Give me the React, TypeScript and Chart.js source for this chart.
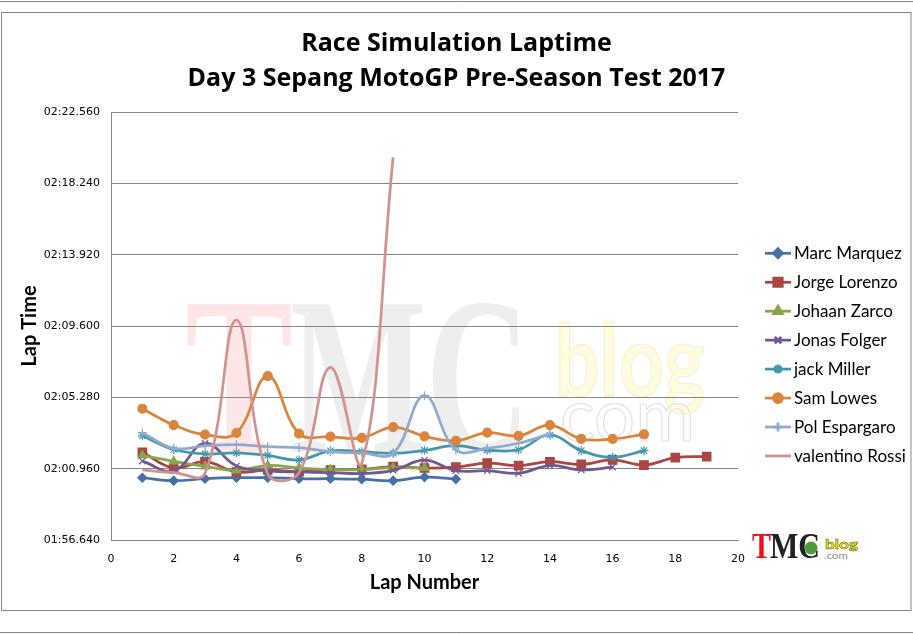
import { useEffect, useRef } from "react";
import { Chart, registerables } from "chart.js";
import { drawPoint } from "chart.js/helpers";

Chart.register(...registerables);

// lap numbers (x values)
const laps = [1, 2, 3, 4, 5, 6, 7, 8, 9, 10, 11, 12, 13, 14, 15, 16, 17, 18, 19];

// lap times in seconds
const marcMarquez = [120.41, 120.23, 120.35, 120.41, 120.41, 120.35, 120.35, 120.32, 120.23, 120.45, 120.33];
const jorgeLorenzo = [121.95, 121.0, 121.38, 120.76, 120.88, 120.78, 120.88, 120.92, 121.08, 121.0, 121.05, 121.29, 121.14, 121.38, 121.22, 121.49, 121.18, 121.63, 121.69];
const johaanZarco = [121.76, 121.4, 121.1, 120.86, 121.15, 121.0, 120.9, 120.9, 121.02, 121.0];
const jonasFolger = [121.42, 120.82, 122.5, 121.12, 120.83, 120.76, 120.72, 120.66, 120.86, 121.47, 120.84, 120.84, 120.68, 121.15, 120.88, 121.05];
const jackMiller = [122.95, 122.12, 121.85, 121.92, 121.76, 121.49, 122.04, 121.99, 121.89, 122.07, 122.35, 122.09, 122.11, 123.0, 122.05, 121.65, 122.05];
const samLowes = [124.59, 123.6, 123.02, 123.12, 126.57, 123.08, 122.9, 122.82, 123.48, 122.92, 122.65, 123.14, 122.94, 123.6, 122.76, 122.76, 123.04];
const polEspargaro = [123.14, 122.19, 122.34, 122.42, 122.29, 122.23, 121.99, 121.91, 121.89, 125.38, 122.09, 122.19, 122.5, 123.06];
const valentinoRossi = [120.88, 120.72, 120.68, 129.96, 120.62, 120.72, 127.1, 121.3, 139.82];

const riders = ["Marc Marquez", "Jorge Lorenzo", "Johaan Zarco", "Jonas Folger", "jack Miller", "Sam Lowes", "Pol Espargaro", "valentino Rossi"];
const riderTimes = [marcMarquez, jorgeLorenzo, johaanZarco, jonasFolger, jackMiller, samLowes, polEspargaro, valentinoRossi];
const riderColors = ["#4572A7", "#AA4643", "#89A54E", "#71588F", "#4198AF", "#DB843D", "#93A9CF", "#D19392"];
const riderMarkers: (string | false)[] = ["rectRot", "rect", "triangle", "crossRot", "star", "circle", "cross", false];
const markerRadius = [4.5, 6, 5, 4.5, 4.5, 4.5, 4.5, 0];

const yTicks = [116.64, 120.96, 125.28, 129.6, 133.92, 138.24, 142.56];
const xTicks = [0, 2, 4, 6, 8, 10, 12, 14, 16, 18, 20];

const grey = "#868686";

function fmtLap(v: number) {
  const ms = Math.round(v * 1000);
  const m = Math.floor(ms / 60000);
  const rest = ms - m * 60000;
  const s = Math.floor(rest / 1000);
  const f = rest % 1000;
  return `${String(m).padStart(2, "0")}:${String(s).padStart(2, "0")}.${String(f).padStart(3, "0")}`;
}

function fitText(
  ctx: CanvasRenderingContext2D,
  text: string,
  x: number,
  base: number,
  width: number,
  font: string,
  fill: string | null,
  stroke?: string,
  strokeWidth = 1.2
) {
  ctx.save();
  ctx.font = font;
  ctx.textBaseline = "alphabetic";
  ctx.textAlign = "left";
  const w = ctx.measureText(text).width;
  ctx.translate(x, base);
  ctx.scale(width / w, 1);
  if (fill) {
    ctx.fillStyle = fill;
    ctx.fillText(text, 0, 0);
  }
  if (stroke) {
    ctx.strokeStyle = stroke;
    ctx.lineWidth = strokeWidth;
    ctx.strokeText(text, 0, 0);
  }
  ctx.restore();
}

// white page, frame lines and the faint watermark behind the plot
const backdrop = {
  id: "backdrop",
  beforeDraw(chart: Chart) {
    const ctx = chart.ctx;
    ctx.save();
    ctx.fillStyle = "#fff";
    ctx.fillRect(0, 0, chart.width, chart.height);
    ctx.strokeStyle = grey;
    ctx.lineWidth = 1;
    ctx.beginPath();
    ctx.moveTo(0, 1.5);
    ctx.lineTo(chart.width, 1.5);
    ctx.moveTo(0, 632.5);
    ctx.lineTo(chart.width, 632.5);
    ctx.stroke();
    ctx.strokeRect(1.5, 12.5, 909.5, 598);

    fitText(ctx, "T", 185, 452, 108, 'bold 225px "Liberation Serif"', "#fde6e6");
    fitText(ctx, "MC", 290, 452, 240, 'bold 225px "Liberation Serif"', "#eeeeee");
    fitText(ctx, "blog", 555, 396, 150, 'bold 100px "Lato"', "#fefbe0", "#f6f1d0");
    fitText(ctx, "com", 560, 441, 135, '74px "Lato"', null, "#e2e2e2");
    ctx.restore();
  },
};

// legend on the right plus the small logo
const sideLegend = {
  id: "sideLegend",
  afterDraw(chart: Chart) {
    const ctx = chart.ctx;
    ctx.save();
    riders.forEach((name, i) => {
      const y = 253.3 + i * 28.95;
      ctx.strokeStyle = riderColors[i];
      ctx.lineWidth = 2.75;
      ctx.beginPath();
      ctx.moveTo(765, y);
      ctx.lineTo(791, y);
      ctx.stroke();
      const style = riderMarkers[i];
      if (style) {
        ctx.fillStyle = riderColors[i];
        ctx.strokeStyle = riderColors[i];
        drawPoint(ctx, { pointStyle: style as any, radius: markerRadius[i], rotation: 0, borderWidth: 1.2 }, 778, y);
      }
      ctx.fillStyle = "#000";
      ctx.font = '17px "Lato"';
      ctx.textBaseline = "middle";
      ctx.textAlign = "left";
      ctx.fillText(name, 794, y + 0.5);
    });

    fitText(ctx, "T", 752, 558, 19, 'bold 36px "Liberation Serif"', "#e8141c");
    fitText(ctx, "MC", 770, 558, 50, 'bold 36px "Liberation Serif"', "#222");
    ctx.fillStyle = "#4f9a3e";
    ctx.beginPath();
    ctx.arc(811, 548, 6.5, 0, Math.PI * 2);
    ctx.fill();
    fitText(ctx, "blog", 825, 549, 33, 'bold 14px "Lato"', "#f2ee00", "#5a5a20", 0.5);
    fitText(ctx, ".com", 824, 559, 24, '10px "Lato"', "#8a8a8a");
    ctx.restore();
  },
};

export default function App() {
  const chartRef = useRef<HTMLCanvasElement>(null);
  const chartInstance = useRef<Chart | null>(null);

  useEffect(() => {
    if (!chartRef.current) return;
    if (chartInstance.current) chartInstance.current.destroy();
    const ctx = chartRef.current.getContext("2d");
    if (!ctx) return;

    const datasets = riders.map((name, i) => ({
      label: name,
      data: riderTimes[i].map((v, j) => ({ x: laps[j], y: v })),
      borderColor: riderColors[i],
      backgroundColor: riderColors[i],
      borderWidth: 2.75,
      tension: 0.4,
      pointStyle: riderMarkers[i] as any,
      pointRadius: markerRadius[i],
      pointBackgroundColor: riderColors[i],
      pointBorderColor: riderColors[i],
      pointBorderWidth: 1.2,
      fill: false,
      yAxisID: "y",
      order: riders.length - i,
    }));

    chartInstance.current = new Chart(ctx, {
      type: "line",
      data: { datasets },
      plugins: [backdrop, sideLegend],
      options: {
        responsive: false,
        animation: false,
        layout: { padding: { top: 13, left: 0, right: 0, bottom: 23 } },
        plugins: {
          legend: { display: false },
          tooltip: { enabled: false },
          title: {
            display: true,
            text: ["Race Simulation Laptime", "Day 3 Sepang MotoGP Pre-Season Test 2017"],
            color: "#000",
            font: { family: "Open Sans", size: 25, weight: "bold", lineHeight: 1.4 },
            padding: { top: 13, bottom: 16 },
          },
        },
        scales: {
          x: {
            type: "linear",
            min: 0,
            max: 20,
            afterBuildTicks: (s: any) => {
              s.ticks = xTicks.map((v) => ({ value: v }));
            },
            afterFit: (s: any) => {
              s.height = 71;
            },
            grid: { display: false },
            border: { display: true, color: grey, width: 1 },
            ticks: { color: "#000", padding: 5, font: { family: "DejaVu Sans", size: 11 } },
            title: {
              display: true,
              text: "Lap Number",
              color: "#000",
              font: { family: "Lato", size: 20, weight: "bold" },
              padding: { top: 0, bottom: 16 },
            },
          },
          y: {
            min: 116.64,
            max: 142.56,
            afterBuildTicks: (s: any) => {
              s.ticks = yTicks.map((v) => ({ value: v }));
            },
            afterFit: (s: any) => {
              s.width = 111;
            },
            grid: { color: grey, lineWidth: 1, drawTicks: false },
            border: { display: true, color: grey, width: 1 },
            ticks: {
              color: "#000",
              padding: 11,
              font: { family: "DejaVu Sans", size: 11 },
              callback: (v: any) => fmtLap(Number(v)),
            },
            title: {
              display: true,
              text: "Lap Time",
              color: "#000",
              font: { family: "Lato", size: 20, weight: "bold" },
              padding: { top: 18, bottom: 0 },
            },
          },
          // empty box on the right that keeps room for the legend
          side: {
            type: "linear",
            position: "right",
            display: true,
            afterFit: (s: any) => {
              s.width = 175;
            },
            grid: { display: false },
            border: { display: false },
            ticks: { display: false },
          },
        },
      },
    });

    return () => {
      if (chartInstance.current) {
        chartInstance.current.destroy();
        chartInstance.current = null;
      }
    };
  }, []);

  return (
    <div style={{ position: "fixed", left: 0, top: 0, width: 913, height: 634, background: "#fff" }}>
      <canvas ref={chartRef} width={913} height={634} />
    </div>
  );
}
